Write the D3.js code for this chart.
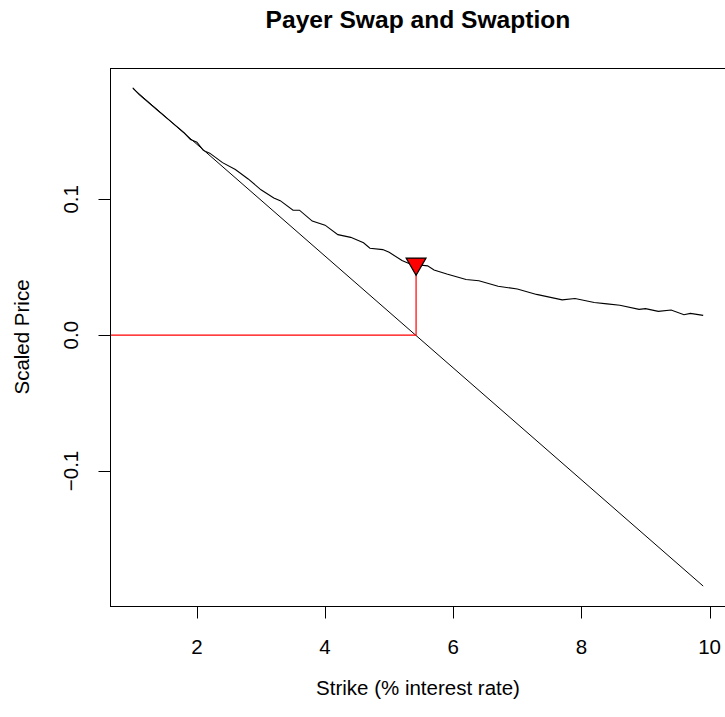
<!DOCTYPE html>
<html>
<head>
<meta charset="utf-8">
<script src="https://cdn.jsdelivr.net/npm/d3@7"></script>
<style>
body { margin: 0; background: #fff; }
text { font-family: "Liberation Sans", Arial, sans-serif; }
</style>
</head>
<body>
<script>
var w = 725;
var h = 717;

// swaption price (Monte Carlo) by strike
var strikes = [1.0, 1.1, 1.2, 1.4, 1.6, 1.8, 1.9, 2.0, 2.1, 2.2, 2.4, 2.6, 2.8, 3.0, 3.2, 3.3, 3.5, 3.6, 3.8, 4.0,
    4.2, 4.4, 4.6, 4.7, 4.9, 5.0, 5.2, 5.3, 5.4, 5.6, 5.7, 5.9, 6.2, 6.4, 6.7, 7.0, 7.3, 7.7, 7.9, 8.2,
    8.4, 8.6, 8.9, 9.0, 9.2, 9.4, 9.6, 9.7, 9.9];
var swaption = [0.182, 0.177, 0.173, 0.165, 0.157, 0.149, 0.144, 0.142, 0.136, 0.134, 0.127, 0.122, 0.115, 0.107, 0.101, 0.099, 0.092, 0.092, 0.084, 0.081,
    0.074, 0.072, 0.068, 0.064, 0.063, 0.061, 0.055, 0.053, 0.052, 0.051, 0.048, 0.045, 0.041, 0.040, 0.036, 0.034, 0.030, 0.026, 0.027, 0.024,
    0.023, 0.022, 0.019, 0.0195, 0.0175, 0.0185, 0.015, 0.016, 0.0146];

// payer swap (straight line)
var swapStrikes = [1.0, 9.9];
var swapValues = [0.1817, -0.1847];

// at-the-money point
var atmStrike = 5.42;
var atmValue = 0.0525;

var xTicks = [2, 4, 6, 8, 10];
var yTicks = [-0.1, 0.0, 0.1];

var pLeft = 110, pRight = 726, pTop = 68, pBottom = 606;

// R style 4% axis extension
function ext(lo, hi) { var d = (hi - lo) * 0.04; return [lo - d, hi + d]; }
var xdom = ext(d3.min(strikes), d3.max(strikes));
var ydom = ext(d3.min(swapValues.concat(swaption)), d3.max(swapValues.concat(swaption)));

var x = d3.scaleLinear().domain(xdom).range([pLeft, pRight]);
var y = d3.scaleLinear().domain(ydom).range([pBottom, pTop]);

var svg = d3.select("body").append("svg")
    .attr("width", w)
    .attr("height", h);

svg.append("defs").append("clipPath").attr("id", "clip")
    .append("rect")
    .attr("x", pLeft).attr("y", pTop)
    .attr("width", pRight - pLeft).attr("height", pBottom - pTop);

var plot = svg.append("g").attr("clip-path", "url(#clip)");

var line = d3.line()
    .x(function(d) { return x(d[0]); })
    .y(function(d) { return y(d[1]); });

plot.append("path")
    .attr("d", line(d3.zip(swapStrikes, swapValues)))
    .attr("fill", "none")
    .attr("stroke", "#000")
    .attr("stroke-width", 1);

plot.append("path")
    .attr("d", line(d3.zip(strikes, swaption)))
    .attr("fill", "none")
    .attr("stroke", "#000")
    .attr("stroke-width", 1.1);

// red guide lines
plot.append("path")
    .attr("d", line([[xdom[0], 0], [atmStrike, 0], [atmStrike, atmValue]]))
    .attr("fill", "none")
    .attr("stroke", "#ff0000")
    .attr("stroke-width", 1.2);

// down triangle (pch 25)
var s = 7.4;
var px = x(atmStrike), py = y(atmValue);
plot.append("path")
    .attr("d", "M" + (px - 1.3468 * s) + "," + (py - 0.7776 * s) +
        "L" + (px + 1.3468 * s) + "," + (py - 0.7776 * s) +
        "L" + px + "," + (py + 1.5551 * s) + "Z")
    .attr("fill", "#ff0000")
    .attr("stroke", "#000")
    .attr("stroke-width", 1.2);

// box
svg.append("rect")
    .attr("x", pLeft + 0.5).attr("y", pTop + 0.5)
    .attr("width", pRight - pLeft).attr("height", pBottom - pTop)
    .attr("fill", "none")
    .attr("stroke", "#000")
    .attr("stroke-width", 1);

// x axis
var xa = svg.append("g").attr("transform", "translate(0," + (pBottom + 0.5) + ")");
xa.append("line")
    .attr("x1", x(xTicks[0])).attr("x2", x(xTicks[xTicks.length - 1]))
    .attr("stroke", "#000");
xa.selectAll(".tk").data(xTicks).enter().append("line")
    .attr("x1", function(d) { return Math.round(x(d)) + 0.5; })
    .attr("x2", function(d) { return Math.round(x(d)) + 0.5; })
    .attr("y1", 0).attr("y2", 12)
    .attr("stroke", "#000");
xa.selectAll(".lb").data(xTicks).enter().append("text")
    .attr("x", function(d) { return x(d); })
    .attr("y", 42)
    .attr("text-anchor", "middle")
    .attr("dominant-baseline", "middle")
    .style("font-size", "20.5px")
    .text(function(d) { return d; });

// y axis
var ya = svg.append("g").attr("transform", "translate(" + (pLeft + 0.5) + ",0)");
ya.append("line")
    .attr("y1", y(yTicks[0])).attr("y2", y(yTicks[yTicks.length - 1]))
    .attr("stroke", "#000");
ya.selectAll(".tk").data(yTicks).enter().append("line")
    .attr("y1", function(d) { return Math.round(y(d)) + 0.5; })
    .attr("y2", function(d) { return Math.round(y(d)) + 0.5; })
    .attr("x1", 0).attr("x2", -12)
    .attr("stroke", "#000");
ya.selectAll(".lb").data(yTicks).enter().append("text")
    .attr("transform", function(d) { return "translate(-38," + y(d) + ") rotate(-90)"; })
    .attr("text-anchor", "middle")
    .attr("dominant-baseline", "middle")
    .style("font-size", "20.5px")
    .text(function(d) { return d3.format(".1f")(d).replace("-", "\u2212"); });

// titles
svg.append("text")
    .attr("x", (pLeft + pRight) / 2).attr("y", 21)
    .attr("text-anchor", "middle")
    .attr("dominant-baseline", "middle")
    .style("font-size", "24.6px")
    .style("font-weight", "bold")
    .text("Payer Swap and Swaption");

svg.append("text")
    .attr("x", (pLeft + pRight) / 2).attr("y", 690)
    .attr("text-anchor", "middle")
    .attr("dominant-baseline", "middle")
    .style("font-size", "20.5px")
    .text("Strike (% interest rate)");

svg.append("text")
    .attr("transform", "translate(24," + ((pTop + pBottom) / 2) + ") rotate(-90)")
    .attr("text-anchor", "middle")
    .attr("dominant-baseline", "middle")
    .style("font-size", "20.5px")
    .text("Scaled Price");
</script>
</body>
</html>
